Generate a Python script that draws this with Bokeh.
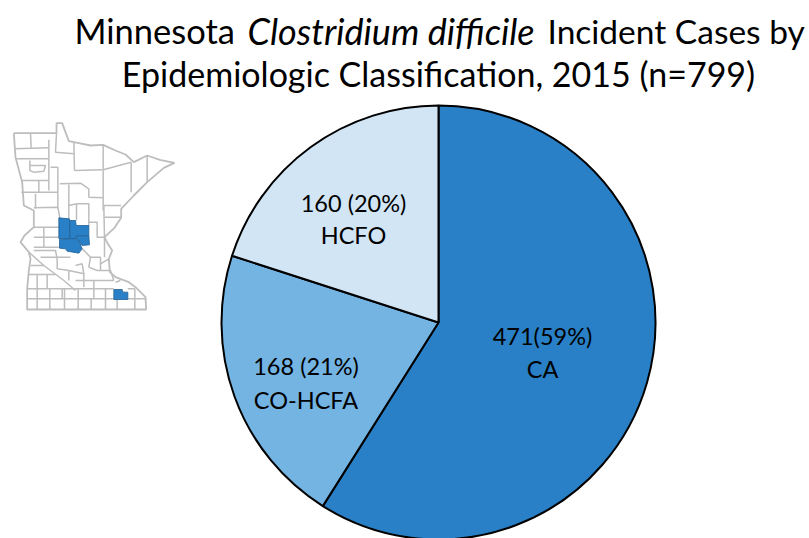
from math import pi
from itertools import accumulate
from bokeh.plotting import figure
from bokeh.models import Range1d
from bokeh.core.properties import value
from bokeh.embed import file_html
from bokeh.resources import INLINE

categories = ["CA", "CO-HCFA", "HCFO"]
cases = [471, 168, 160]
percent_labels = ["471(59%)", "168 (21%)", "160 (20%)"]
colors = ["#2980C6", "#74B4E3", "#D1E5F4"]

# Map drawing, traced in reference pixels at 3x from the crop origin (0, 110)
state_outline = [(40,68),(168,68),(168,38),(185,38),(195,65),(205,92),(235,98),(270,105),(308,103),(345,120),(375,132),
    (400,155),(440,135),(478,148),(522,157),(490,172),(440,215),(400,255),(362,295),(362,322),(342,352),(312,380),
    (322,400),(335,420),(325,445),(328,485),(345,500),(385,515),(405,530),(435,560),(437,597),(80,597),(80,535),
    (85,480),(90,445),(85,425),(60,395),(72,375),(100,350),(100,300),(70,285),(65,215),(45,140),(40,68)]
county_lines = [
    [(90,68),(92,112)], [(42,115),(145,112)], [(145,88),(145,240)], [(45,145),(145,145)],
    [(168,68),(165,125),(220,130)], [(220,95),(222,180)], [(222,180),(305,178)], [(308,103),(308,262)],
    [(308,178),(392,155)], [(392,155),(392,245)], [(440,135),(440,215)],
    [(88,150),(88,180),(100,185),(130,182),(135,165),(88,165)], [(65,210),(145,210)], [(115,210),(115,245)],
    [(62,245),(172,245)], [(105,250),(105,295)], [(150,170),(172,170),(172,290)], [(100,292),(172,290),(178,322)],
    [(178,220),(240,218),(265,235),(265,260),(308,262),(308,300)], [(205,222),(205,325)], [(228,280),(265,280),(265,345)],
    [(228,280),(228,330)], [(205,285),(228,280)], [(310,285),(362,285)], [(310,285),(312,380)], [(312,320),(360,320)],
    [(290,345),(290,380),(312,380)], [(265,335),(290,335),(290,345)], [(100,350),(175,350)], [(130,350),(130,410)],
    [(100,380),(175,380)], [(100,410),(175,410)], [(85,425),(130,465),(190,510),(225,540)], [(100,420),(165,420),(170,445)],
    [(120,440),(210,440)], [(90,465),(130,465)], [(85,492),(165,492)], [(110,492),(110,535)], [(140,492),(140,535)],
    [(170,445),(170,475),(205,480),(205,510)], [(205,480),(250,490),(250,530)], [(225,465),(245,460),(250,490)],
    [(245,415),(270,440),(265,470),(290,480)], [(270,440),(300,440),(300,480)], [(290,480),(330,480),(340,510)],
    [(300,460),(325,445)], [(312,380),(312,440)], [(225,510),(340,510)], [(280,510),(280,565)],
    [(185,535),(185,565)], [(80,535),(340,535)], [(80,565),(437,565)], [(110,535),(110,597)], [(148,535),(148,597)],
    [(192,535),(192,597)], [(233,535),(233,597)], [(272,565),(272,597)], [(315,535),(315,597)], [(350,567),(350,597)],
    [(403,535),(403,597)], [(345,515),(360,510)], [(382,535),(403,535)],
]
shaded_counties = [
    [(175,322),(207,325),(207,384),(175,384)],
    [(208,330),(225,330),(227,345),(265,345),(265,376),(228,376),(226,384),(208,384)],
    [(228,376),(265,376),(267,403),(245,405),(236,392),(228,384)],
    [(177,386),(226,384),(236,392),(245,415),(235,428),(200,422),(195,415),(177,413)],
    [(340,537),(365,537),(367,545),(382,545),(382,567),(340,567)],
]

W, H = 809, 538
p = figure(width=W, height=H, x_range=Range1d(0, W), y_range=Range1d(0, H),
           output_backend="svg", toolbar_location=None, min_border=0, outline_line_color=None)
p.axis.visible = False
p.grid.visible = False

FONT = value("Lato")
mx = lambda pts: [a / 3 for a, _ in pts]
my = lambda pts: [H - (110 + b / 3) for _, b in pts]

# Pie, clockwise from twelve o'clock, angles taken from the case counts
total = sum(cases)
cum = [0] + list(accumulate(cases))
starts = [pi / 2 - 2 * pi * c / total for c in cum[:-1]]
ends = [pi / 2 - 2 * pi * c / total for c in cum[1:]]
for s, e, c in zip(starts, ends, colors):
    p.wedge(x=438, y=H - 322, radius=217, start_angle=s, end_angle=e, direction="clock",
            fill_color=c, line_color="black", line_width=2)

label_pos = [(542, 335, 368), (305.5, 365, 399), (353, 202, 234)]
for (x, y1, y2), lab, cat in zip(label_pos, percent_labels, categories):
    for y, t in ((y1, lab), (y2, cat)):
        p.text(x=[x], y=[H - y], text=[t], text_font=FONT, text_font_size="23.5px", text_color="black",
               text_align="center", text_baseline="middle")

# Title
for x, t, st, size in ((74, "Minnesota", "normal", "34.5px"), (247, "Clostridium difficile", "italic", "36px"),
                       (547, "Incident Cases by", "normal", "33.5px")):
    p.text(x=[x], y=[H - 30], text=[t], text_font=FONT, text_font_style=st, text_font_size=size,
           text_color="black", text_align="left", text_baseline="middle")
p.text(x=[438], y=[H - 73], text=["Epidemiologic Classification, 2015 (n=799)"], text_font=FONT, text_font_size="34px",
       text_color="black", text_align="center", text_baseline="middle")

# Map
p.line(mx(state_outline), my(state_outline), line_color="#BDBDBD", line_width=1.8)
for seg in county_lines:
    p.line(mx(seg), my(seg), line_color="#BDBDBD", line_width=1.5)
for poly in shaded_counties:
    p.patch(mx(poly), my(poly), fill_color="#2980C6", line_color="#1F5F96", line_width=0.8)

open("out.html", "w").write(file_html(p, INLINE))
